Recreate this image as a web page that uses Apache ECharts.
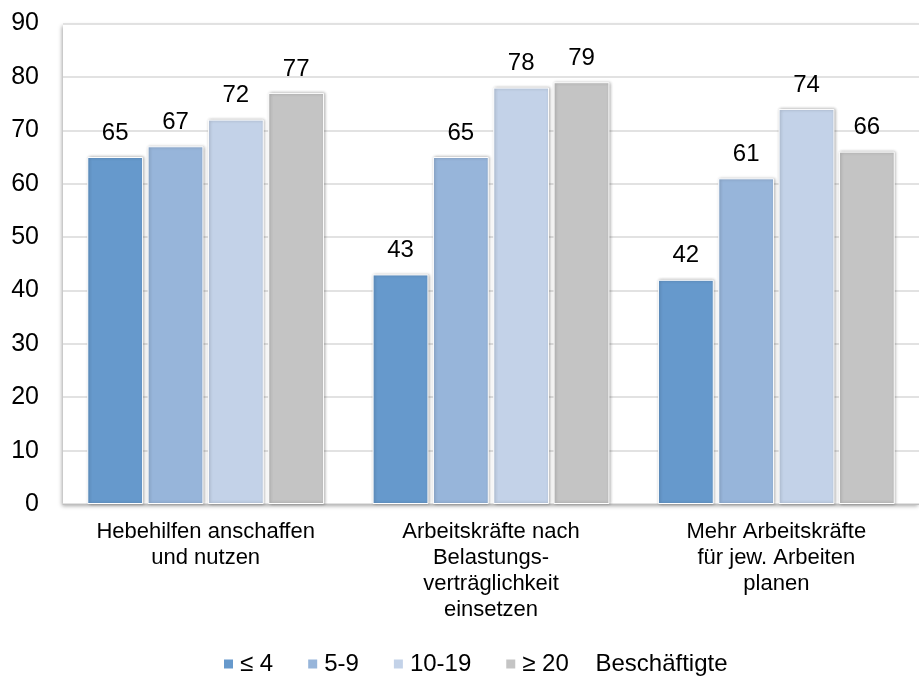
<!DOCTYPE html>
<html>
<head>
<meta charset="utf-8">
<script src="https://cdn.jsdelivr.net/npm/echarts@6/dist/echarts.min.js"></script>
<style>
  html, body { margin: 0; padding: 0; background: #fff; }
  #chart { width: 919px; height: 677px; }
</style>
</head>
<body>
<div id="chart"></div>
<script>
// Measures against load, by company size (number of employees)
const categories = [
  'Hebehilfen anschaffen\nund nutzen',
  'Arbeitskräfte nach\nBelastungs-\nverträglichkeit\neinsetzen',
  'Mehr Arbeitskräfte\nfür jew. Arbeiten\nplanen'
];
const sizeClasses = ['≤ 4', '5-9', '10-19', '≥ 20'];
const valuesUpTo4 = [65, 43, 42];
const values5to9 = [67, 65, 61];
const values10to19 = [72, 78, 74];
const values20plus = [77, 79, 66];
const yTicks = { min: 0, max: 90, interval: 10 };

const seriesValues = [valuesUpTo4, values5to9, values10to19, values20plus];
const colors = ['#6699CC', '#97B5DA', '#C3D2E8', '#C4C4C4'];
const font = 'Liberation Sans, Arial, sans-serif';

const chart = echarts.init(document.getElementById('chart'), null, { renderer: 'canvas' });

chart.setOption({
  animation: false,
  color: colors,
  textStyle: { fontFamily: font, color: '#000' },
  grid: {
    left: 63, top: 23.5, width: 866, bottom: 173,
    show: true, backgroundColor: '#fff', borderWidth: 0,
    shadowColor: 'rgba(0,0,0,0.35)', shadowBlur: 4, shadowOffsetX: -1, shadowOffsetY: 2
  },
  legend: {
    left: 217, top: 647,
    itemWidth: 11, itemHeight: 11, itemGap: 33,
    icon: 'rect',
    textStyle: { fontSize: 24, color: '#000', fontFamily: font, padding: [0, 0, 0, 1] },
    formatter: name => name === '≥ 20' ? name + '    Beschäftigte' : name,
    data: sizeClasses
  },
  xAxis: {
    type: 'category',
    data: categories,
    axisLine: { show: true, lineStyle: { color: '#bfbfbf', width: 1 } },
    axisTick: { show: false },
    axisLabel: { fontSize: 22, color: '#000', lineHeight: 26, margin: 15, interval: 0 },
    splitLine: { show: false }
  },
  yAxis: {
    type: 'value',
    min: yTicks.min, max: yTicks.max, interval: yTicks.interval,
    axisLine: { show: false },
    axisTick: { show: false },
    axisLabel: { fontSize: 25, color: '#000', margin: 24 },
    splitLine: { lineStyle: { color: '#d9d9d9', width: 1.5 } }
  },
  series: sizeClasses.map((name, i) => ({
    name,
    type: 'bar',
    data: seriesValues[i],
    barCategoryGap: '17%',
    barGap: '8%',
    itemStyle: {
      color: colors[i],
      borderColor: '#fff', borderWidth: 1,
      shadowColor: 'rgba(0,0,0,0.3)', shadowBlur: 3, shadowOffsetX: 1, shadowOffsetY: 0
    },
    label: {
      show: true, position: 'top', distance: 12,
      fontSize: 24, color: '#000', fontFamily: font
    }
  }))
});
</script>
</body>
</html>
